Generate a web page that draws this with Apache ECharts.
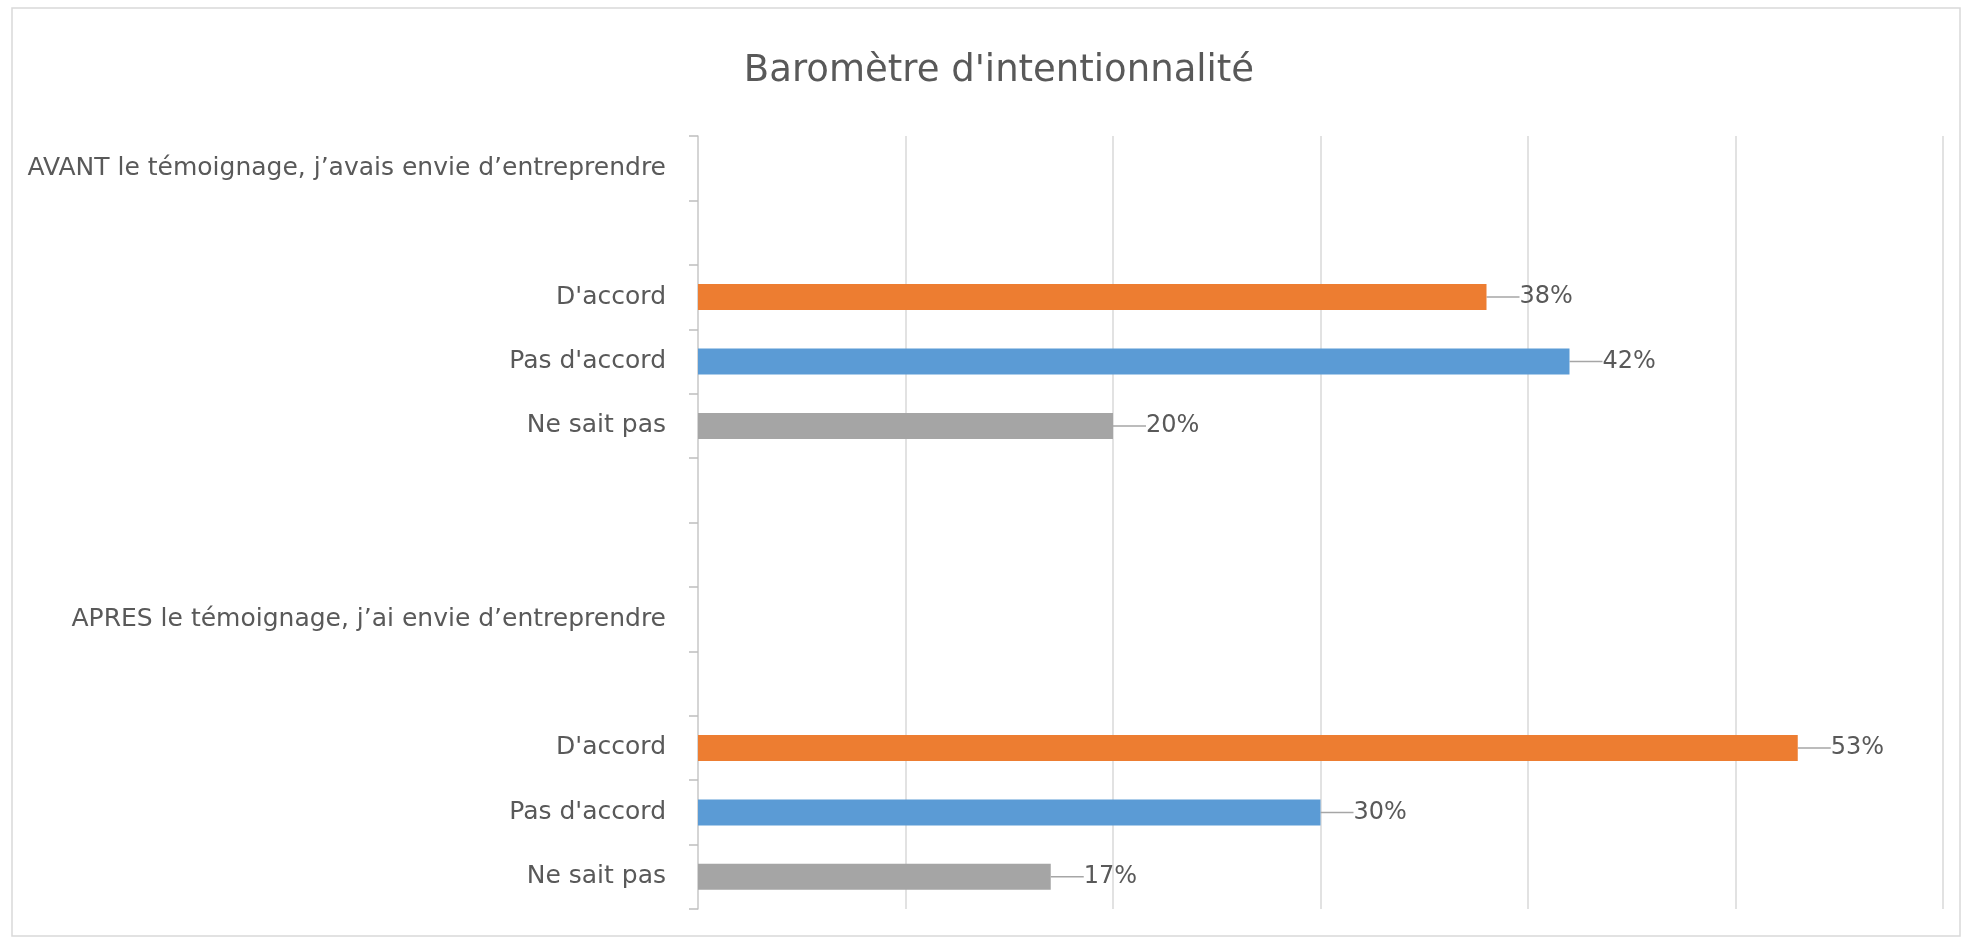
<!DOCTYPE html>
<html>
<head>
<meta charset="utf-8">
<script src="https://cdn.jsdelivr.net/npm/echarts@6/dist/echarts.min.js"></script>
<style>
html,body{margin:0;padding:0;background:#fff;}
#chart{width:1962px;height:940px;}
</style>
</head>
<body>
<div id="chart"></div>
<script>
const titleText = "Baromètre d'intentionnalité";
const groupLabels = ["AVANT le témoignage, j’avais envie d’entreprendre", "APRES le témoignage, j’ai envie d’entreprendre"];
const responses = ["D'accord", "Pas d'accord", "Ne sait pas"];
const avantValues = [38, 42, 20];
const apresValues = [53, 30, 17];
const responseColors = ["#ED7D31", "#5B9BD5", "#A5A5A5"];
const axisMax = 60;
const axisInterval = 10;

// Build category rows (top to bottom) with blank spacer rows as in the reference
const categories = [];
const values = [];
function pushRow(label, item) { categories.push(label); values.push(item); }
pushRow(groupLabels[0], null);
pushRow('', null);
responses.forEach((r, i) => pushRow(r, { value: avantValues[i], itemStyle: { color: responseColors[i] } }));
pushRow(' ', null);
pushRow('  ', null);
pushRow(groupLabels[1], null);
pushRow('   ', null);
responses.forEach((r, i) => pushRow(r, { value: apresValues[i], itemStyle: { color: responseColors[i] } }));

const FONT = 'DejaVu Sans';
const chart = echarts.init(document.getElementById('chart'));
chart.setOption({
  animation: false,
  backgroundColor: '#ffffff',
  textStyle: { fontFamily: FONT },
  title: {
    text: titleText,
    left: 994,
    textAlign: 'center',
    top: 48,
    textStyle: { fontFamily: FONT, fontSize: 37, fontWeight: 'normal', color: '#595959' }
  },
  graphic: [{
    type: 'rect',
    shape: { x: 12, y: 8, width: 1948, height: 928 },
    style: { fill: 'none', stroke: '#d9d9d9', lineWidth: 1.5 },
    silent: true,
    z: -10
  }],
  grid: { left: 698, right: 19, top: 136, bottom: 31, containLabel: false },
  xAxis: {
    type: 'value',
    min: 0,
    max: axisMax,
    interval: axisInterval,
    axisLabel: { show: false },
    axisLine: { show: false },
    axisTick: { show: false },
    splitLine: { show: true, lineStyle: { color: '#d9d9d9', width: 1.5 } }
  },
  yAxis: {
    type: 'category',
    inverse: true,
    data: categories,
    axisLine: { show: true, lineStyle: { color: '#d0d0d0', width: 1.5 } },
    axisTick: { show: true, interval: 0, length: 9, lineStyle: { color: '#bfbfbf', width: 1.5 } },
    axisLabel: { interval: 0, margin: 32, fontFamily: FONT, fontSize: 25, color: '#595959' }
  },
  series: [{
    type: 'bar',
    data: values,
    barWidth: 26,
    label: {
      show: true,
      position: 'right',
      distance: 0,
      padding: [0, 0, 0, 7],
      formatter: p => p.value + '%',
      fontFamily: FONT,
      fontSize: 24,
      color: '#595959'
    },
    labelLayout: { dx: 26 },
    labelLine: { show: true, lineStyle: { color: '#a6a6a6', width: 1.5 } }
  }]
});
</script>
</body>
</html>
